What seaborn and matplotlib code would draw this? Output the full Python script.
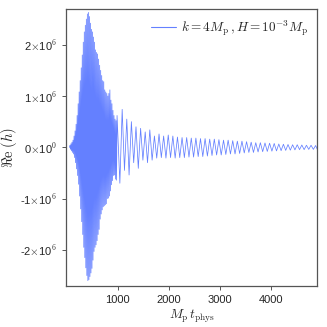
import numpy as np
import pandas as pd
import matplotlib
matplotlib.use("Agg")
import matplotlib.pyplot as plt
import matplotlib.ticker as mticker
from matplotlib.lines import Line2D
import seaborn as sns

# peak values (units of 1e6), alternating up / down
t_early = [60, 70, 80, 90, 100, 110, 120, 130, 140, 150, 160, 170, 180, 190,
           200, 210, 220, 230, 240, 250, 260, 270, 280, 290, 300, 310, 320,
           330, 340, 350, 360, 370, 380, 390, 400, 410, 420, 430, 440, 450,
           460, 470, 480, 490, 500, 510, 520, 530, 540, 550, 560, 570, 580,
           590, 600, 610, 620, 630, 640, 650, 660, 670, 680, 690, 700, 710,
           720, 730, 740, 750, 760, 770, 780, 790, 800, 810, 820, 830, 840,
           850, 860, 870, 880, 890, 900, 910, 920, 930, 940, 950, 960, 970,
           980, 990]
h_early = [0.0,
           0.04, -0.04, 0.07, -0.07, 0.1, -0.1, 0.14, -0.13, 0.22, -0.2,
           0.32, -0.3, 0.45, -0.42, 0.62, -0.55, 0.85, -0.72, 1.08, -0.95,
           1.3, -1.2, 1.55, -1.45, 1.8, -1.7, 2.05, -1.95, 2.25, -2.15,
           2.38, -2.35, 2.5, -2.5, 2.6, -2.6, 2.63, -2.58, 2.55, -2.52,
           2.42, -2.45, 2.3, -2.36, 2.25, -2.2, 2.15, -2.03, 2.05, -1.95,
           1.9, -1.9, 1.85, -1.82, 1.82, -1.7, 1.72, -1.6, 1.6, -1.4,
           1.5, -1.3, 1.4, -1.22, 1.3, -1.16, 1.28, -1.14, 1.12, -1.12,
           1.08, -1.1, 1.05, -1.0, 1.0, -0.99, 1.05, -0.95, 1.12, -0.85,
           0.92, -0.73, 0.85, -0.65, 0.72, -0.55, 0.62, -0.54, 0.55, -0.62,
           0.52, -0.64, 0.62]
t_late = [1045, 1090, 1135, 1180, 1225, 1270, 1315, 1360, 1405, 1450, 1495,
          1540, 1585, 1630, 1675, 1720, 1765, 1810, 1855, 1900, 1945, 1990,
          2035, 2080, 2125, 2170, 2215, 2260, 2305, 2350, 2395, 2440, 2485,
          2530, 2575, 2620, 2665, 2710, 2755, 2800, 2845, 2890, 2935, 2980,
          3025, 3070, 3115, 3160, 3205, 3250, 3295, 3340, 3385, 3430, 3475,
          3520, 3565, 3610, 3655, 3700, 3745, 3790, 3835, 3880, 3925, 3970,
          4015, 4060, 4105, 4150, 4195, 4240, 4285, 4330, 4375, 4420, 4465,
          4510, 4555, 4600, 4645, 4690, 4735, 4780, 4825, 4870, 4900]
h_late = [-0.7, 0.74, -0.45, 0.55, -0.54, 0.5, -0.3, 0.4, -0.41, 0.37, -0.25,
          0.3, -0.3, 0.34, -0.25, 0.22, -0.21, 0.26, -0.2, 0.22, -0.21, 0.24,
          -0.2, 0.22, -0.21, 0.2, -0.2, 0.19, -0.2, 0.19, -0.19, 0.18, -0.19,
          0.18, -0.18, 0.17, -0.18, 0.17, -0.17, 0.16, -0.16, 0.16, -0.15,
          0.15, -0.15, 0.14, -0.14, 0.14, -0.13, 0.13, -0.13, 0.12, -0.12,
          0.12, -0.11, 0.11, -0.1, 0.1, -0.1, 0.09, -0.09, 0.09, -0.085, 0.085,
          -0.08, 0.08, -0.075, 0.075, -0.07, 0.065, -0.065, 0.06, -0.06, 0.055,
          -0.055, 0.05, -0.05, 0.05, -0.045, 0.045, -0.045, 0.04, -0.04, 0.04,
          -0.04, 0.035, -0.035]

df = pd.DataFrame({
    "t": t_early + t_late,
    "h": np.array(h_early + h_late) * 1e6,
})

sns.set_style("ticks")
plt.rcParams["font.family"] = ["Liberation Sans", "DejaVu Sans"]
plt.rcParams["mathtext.fontset"] = "cm"

line_col = "#3d60ff"

fig = plt.figure(figsize=(3.27, 3.27), dpi=100)
ax = fig.add_axes([0.203, 0.126, 0.767, 0.847])

sns.lineplot(data=df, x="t", y="h", sort=False, estimator=None, ax=ax,
             color=line_col, linewidth=0.55, alpha=0.8, legend=False)

ax.set_xlim(0, 4900)
ax.set_ylim(-2.7e6, 2.7e6)
ax.set_xticks([1000, 2000, 3000, 4000])
ax.set_yticks([-2e6, -1e6, 0, 1e6, 2e6])


def sci(v, pos):
    if v == 0:
        return r"0$\times$10$^{0}$"
    return r"%d$\times$10$^{6}$" % round(v / 1e6)


ax.yaxis.set_major_formatter(mticker.FuncFormatter(sci))
ax.tick_params(labelsize=8, length=3, width=0.7, color="#555555")
for s in ax.spines.values():
    s.set_color("#555555")
    s.set_linewidth(0.9)

ax.set_xlabel(r"$M_{\rm p}\,t_{\rm phys}$", fontsize=9.5, labelpad=2)
ax.set_ylabel(r"$\Re{\rm e}\;(h)$", fontsize=10.5, labelpad=1)

handle = Line2D([], [], color=line_col, linewidth=0.8, alpha=0.8)
ax.legend([handle], [r"$k=4M_{\rm p}\,,H=10^{-3}M_{\rm p}$"],
          loc="upper right", frameon=False, fontsize=9.5, handlelength=1.9,
          handletextpad=0.4, borderaxespad=0.3)

fig.savefig("out.png", dpi=100)
